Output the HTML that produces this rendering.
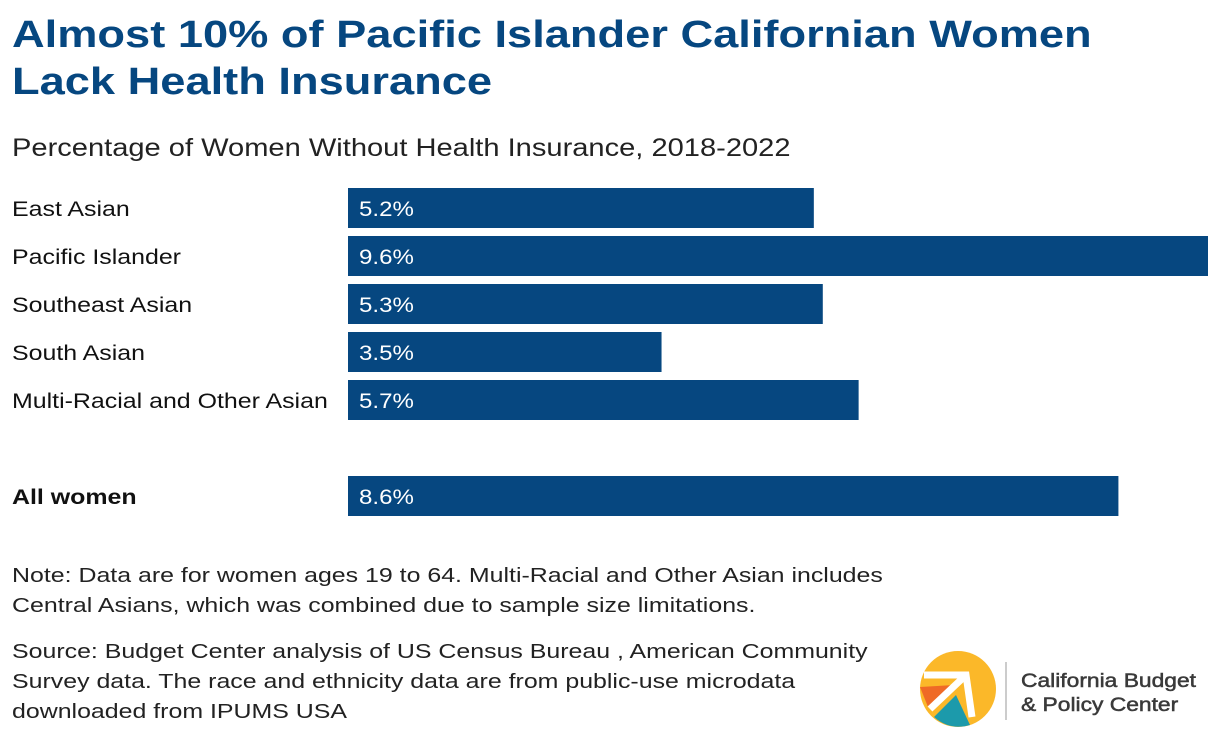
<!DOCTYPE html>
<html><head><meta charset="utf-8"><style>
body{margin:0;width:1220px;height:746px;background:#fff;font-family:"Liberation Sans",sans-serif;position:relative;overflow:hidden}
.t{position:absolute;left:12px;top:12px;font-size:38px;font-weight:bold;color:#064780;line-height:47px;margin:0;transform:scaleX(1.19);transform-origin:0 0;white-space:nowrap}
.sub{position:absolute;left:12px;top:134px;font-size:25px;color:#222;transform:scaleX(1.163);transform-origin:0 0;white-space:nowrap}
.note{position:absolute;left:12px;font-size:20.5px;color:#222;line-height:30px;transform:scaleX(1.215);transform-origin:0 0;white-space:nowrap}
</style></head><body>
<h1 class="t">Almost 10% of Pacific Islander Californian Women<br>Lack Health Insurance</h1>
<div class="sub">Percentage of Women Without Health Insurance, 2018-2022</div>
<svg id="chart" width="1220" height="530" style="position:absolute;left:0;top:0"></svg>
<div class="note" style="top:561px">Note: Data are for women ages 19 to 64. Multi-Racial and Other Asian includes<br>Central Asians, which was combined due to sample size limitations.</div>
<div class="note" style="top:637px">Source: Budget Center analysis of US Census Bureau , American Community<br>Survey data. The race and ethnicity data are from public-use microdata<br>downloaded from IPUMS USA</div>
<svg width="300" height="90" style="position:absolute;left:910px;top:645px">
<circle cx="48" cy="44" r="38" fill="#fbb829"/>
<path d="M10 42 L44 40 L18 62 Z" fill="#ef6a26"/>
<path d="M46 50 L60 80 Q40 86 24 72 Z" fill="#1c9aab"/>
<path d="M14 30 L56 30 L62 72" stroke="#fff" stroke-width="7" fill="none"/>
<path d="M56 30 L20 64" stroke="#fff" stroke-width="7"/>
<line x1="96" y1="17" x2="96" y2="75" stroke="#bbb" stroke-width="1.5"/>
<g transform="translate(111,0) scale(1.17,1)">
<text x="0" y="42" font-size="19.5" fill="#3a3a3a" stroke="#3a3a3a" stroke-width="0.5" font-family="Liberation Sans, sans-serif">California Budget</text>
<text x="0" y="66" font-size="19.5" fill="#3a3a3a" stroke="#3a3a3a" stroke-width="0.5" font-family="Liberation Sans, sans-serif">&amp; Policy Center</text>
</g>
</svg>
<script>
const categories=["East Asian","Pacific Islander","Southeast Asian","South Asian","Multi-Racial and Other Asian","All women"];
const values=[5.2,9.6,5.3,3.5,5.7,8.6];
const labels=["5.2%","9.6%","5.3%","3.5%","5.7%","8.6%"];
const svg=document.getElementById('chart');
const NS='http://www.w3.org/2000/svg';
const x0=348, scale=860/9.6;
function xs(v){return v*scale;}
function ys(i){return i<5?188+i*48:476;}
categories.forEach((c,i)=>{
  const y=ys(i);
  const r=document.createElementNS(NS,'rect');
  r.setAttribute('x',x0);r.setAttribute('y',y);r.setAttribute('width',xs(values[i]));r.setAttribute('height',40);r.setAttribute('fill','#064780');
  
  
  svg.appendChild(r);
  const t=document.createElementNS(NS,'text');
  t.setAttribute('transform','translate(12,'+(y+28)+') scale(1.16,1)');
  t.setAttribute('font-size','21.5');t.setAttribute('fill','#111');
  if(i==5)t.setAttribute('font-weight','bold');
  t.textContent=c;
  
  
  svg.appendChild(t);
  const v=document.createElementNS(NS,'text');
  v.setAttribute('transform','translate('+(x0+11)+','+(y+28)+') scale(1.12,1)');
  v.setAttribute('font-size','21.5');v.setAttribute('fill','#fff');
  v.textContent=labels[i];
  
  
  svg.appendChild(v);
});
</script>
</body></html>
